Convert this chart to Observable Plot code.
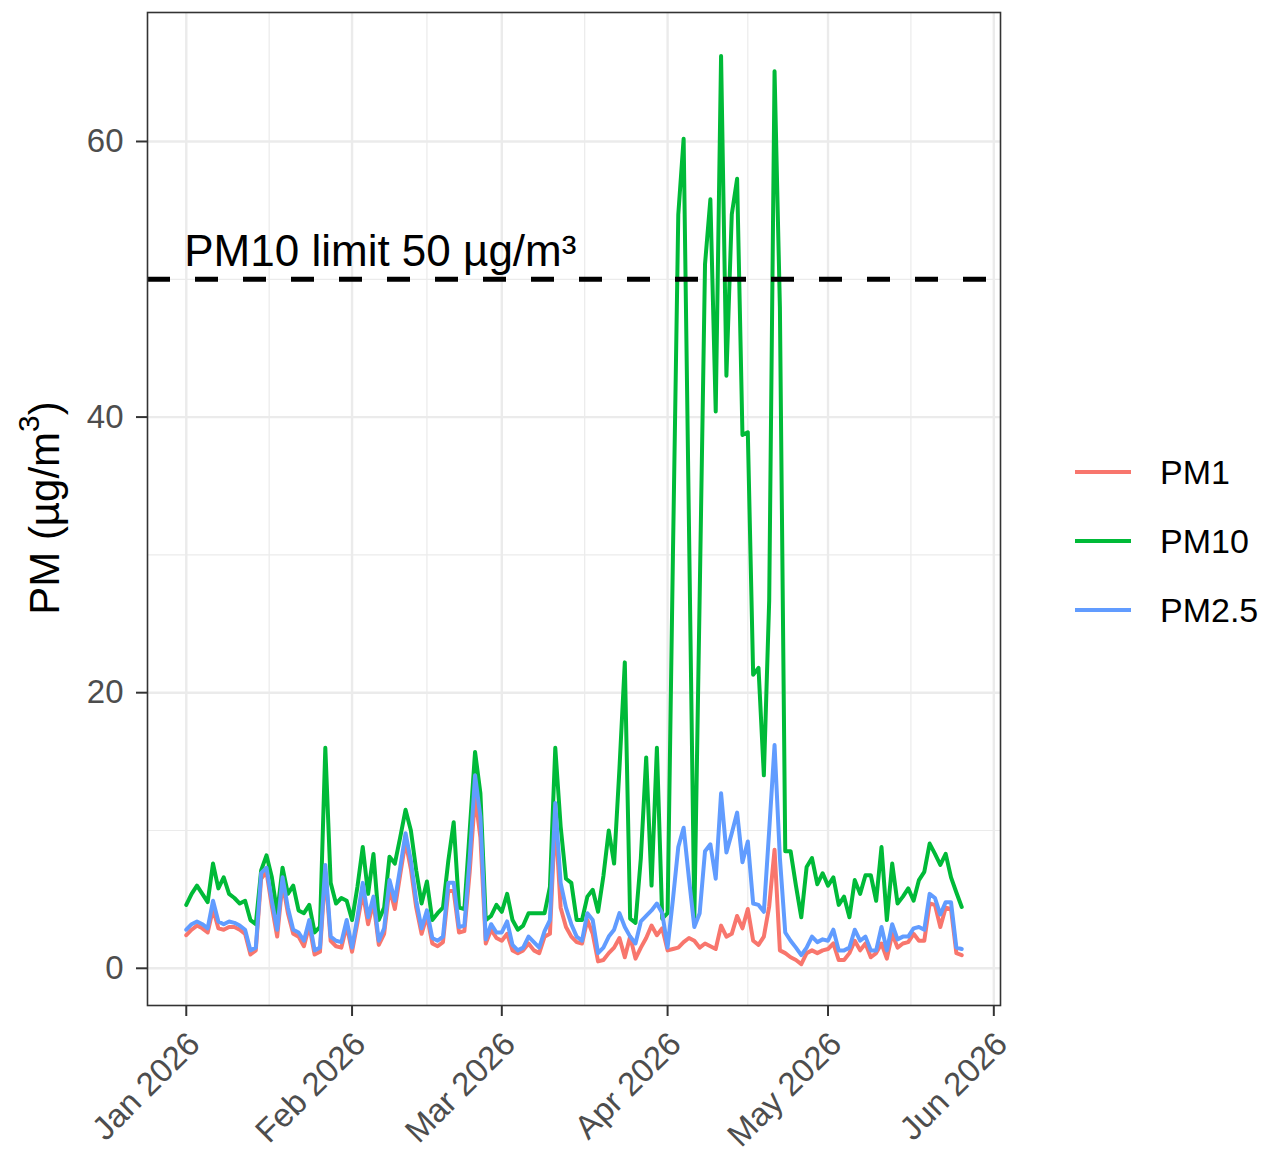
<!DOCTYPE html>
<html>
<head>
<meta charset="utf-8">
<script src="https://cdn.jsdelivr.net/npm/d3@7"></script>
<script src="https://cdn.jsdelivr.net/npm/@observablehq/plot@0.6"></script>
<style>
  html, body { margin: 0; padding: 0; background: #fff; }
  #wrap { position: relative; width: 1266px; height: 1156px; font-family: "Liberation Sans", Arial, Helvetica, sans-serif; }
  #legend { position: absolute; left: 1075px; top: 445px; }
  .item { position: relative; height: 69px; width: 190px; }
  .key { position: absolute; left: 0; top: 25px; width: 56px; height: 4px; }
  .lab { position: absolute; left: 85px; top: 7px; font-size: 34px; color: #000; line-height: 40px; }
</style>
</head>
<body>
<div id="wrap"><div id="chart"></div><div id="legend"></div></div>
<script>
// ---- data (daily, starting 2026-01-01) ----
const startDate = "2026-01-01";
const pm10 = [4.6,5.4,6.0,5.4,4.8,7.6,5.8,6.6,5.4,5.1,4.7,4.9,3.5,3.2,7.1,8.2,6.6,4.0,7.3,5.4,6.0,4.2,4.0,4.6,2.6,3.0,16.0,6.2,4.7,5.1,
  4.9,3.5,5.9,8.8,5.4,8.3,3.5,4.4,8.1,7.6,9.5,11.5,10.0,7.1,4.7,6.3,3.5,4.0,4.4,7.8,10.6,4.4,4.3,10.0,15.7,12.7,3.5,3.8,4.6,
  4.1,5.4,3.5,2.8,3.1,4.0,4.0,4.0,4.0,5.9,16.0,10.3,6.5,6.2,3.5,3.5,5.2,5.7,4.1,6.7,10.0,7.6,14.5,22.2,3.6,3.3,8.0,15.3,6.0,16.0,3.6,
  4.0,30,54.7,60.2,32,3.6,27,51.1,55.8,40.4,66.2,43.0,54.7,57.3,38.7,38.9,21.3,21.8,14.0,26.7,65.1,48,8.5,8.5,6.0,3.7,7.35,8.0,6.1,6.9,
  6.0,6.6,4.6,5.2,3.7,6.4,5.4,6.75,6.75,4.9,8.8,3.5,7.6,4.7,5.2,5.8,4.9,6.4,7.0,9.05,8.3,7.5,8.3,6.6,5.5,4.45];
const pm25 = [2.8,3.2,3.4,3.2,2.9,4.9,3.4,3.2,3.4,3.3,3.1,2.8,1.3,1.5,6.9,7.3,4.9,2.8,6.6,4.4,2.8,2.6,2.0,3.5,1.3,1.5,7.5,2.3,2.0,1.9,
  3.5,1.5,3.7,6.2,3.7,5.2,2.0,2.9,6.4,4.9,7.3,9.8,7.8,4.9,2.9,4.2,2.2,2.0,2.3,6.2,6.2,3.0,3.1,8.0,14.0,11.0,2.1,3.2,2.6,
  2.6,3.4,1.7,1.3,1.5,2.3,1.9,1.5,2.7,3.5,12.0,6.2,4.4,3.2,2.3,2.0,4.0,3.5,1.1,1.5,2.3,2.8,4.0,3.0,2.3,1.8,3.4,3.8,4.2,4.7,4.0,
  1.5,5.0,8.8,10.2,6.5,3.0,4.0,8.5,9.0,6.5,12.7,8.4,9.8,11.3,7.7,9.2,4.7,4.6,4.1,10.0,16.2,8.0,2.6,2.0,1.5,0.95,1.5,2.3,1.9,2.1,
  2.0,2.8,1.3,1.3,1.5,2.8,2.0,2.3,1.3,1.3,3.0,1.3,3.2,2.1,2.3,2.3,2.9,3.0,2.8,5.4,5.1,3.9,4.8,4.8,1.5,1.4];
const pm1 = [2.4,2.8,3.1,2.9,2.6,4.3,2.9,2.8,3.0,3.0,2.8,2.5,1.0,1.3,6.5,7.0,4.5,2.3,6.2,4.0,2.5,2.3,1.6,3.1,1.0,1.2,7.0,2.0,1.6,1.5,
  3.1,1.2,3.3,5.5,3.2,4.8,1.7,2.5,5.8,4.3,6.8,9.2,7.2,4.4,2.5,3.8,1.8,1.6,1.9,5.6,5.6,2.6,2.7,7.0,12.5,9.5,1.8,2.8,2.2,
  2.0,2.5,1.3,1.1,1.3,1.8,1.3,1.1,2.3,2.5,11.0,4.4,3.0,2.3,1.9,1.8,3.5,2.5,0.5,0.6,1.1,1.5,2.2,0.8,2.3,0.7,1.5,2.2,3.1,2.4,2.9,
  1.3,1.4,1.5,1.9,2.2,2.0,1.5,1.8,1.6,1.4,3.1,2.3,2.5,3.8,2.9,4.3,2.0,1.7,2.3,4.5,8.6,1.3,1.1,0.8,0.6,0.3,1.1,1.3,1.1,1.3,
  1.4,1.8,0.6,0.6,1.1,2.0,1.3,1.8,0.8,1.1,1.8,0.7,2.5,1.5,1.8,1.9,2.5,2.0,2.0,4.7,4.6,3.0,4.4,4.3,1.1,0.95];
const seriesNames = ["PM1", "PM10", "PM2.5"];
const seriesColors = ["#F8766D", "#00BA38", "#619CFF"];
const yTicks = [0, 20, 40, 60];
const yMinor = [10, 30, 50];
const xTickDates = ["2026-01-01","2026-02-01","2026-03-01","2026-04-01","2026-05-01","2026-06-01"];
const limitValue = 50;
const limitLabel = "PM10 limit 50 µg/m³";
const limitLabelY = 52;

// ---- build table ----
const t0 = new Date(startDate + "T00:00:00Z");
const DAY = 864e5;
const dates = pm10.map((_, i) => new Date(+t0 + i * DAY));
const valuesBySeries = {"PM1": pm1, "PM10": pm10, "PM2.5": pm25};
const rows = [];
for (const s of seriesNames) valuesBySeries[s].forEach((v, i) => rows.push({date: dates[i], value: v, series: s}));
const majorX = xTickDates.map(d => new Date(d + "T00:00:00Z"));
const minorX = d3.pairs(majorX).map(([a, b]) => new Date((+a + +b) / 2));
const span = +dates[dates.length - 1] - +dates[0];
const xDomain = [new Date(+dates[0] - span * 0.05), new Date(+dates[dates.length - 1] + span * 0.05)];
const yDomain = [-2.7, 69.36];

const chart = Plot.plot({
  width: 1266, height: 1156,
  marginLeft: 147, marginRight: 266, marginTop: 12, marginBottom: 151,
  style: {fontFamily: '"Liberation Sans", Arial, Helvetica, sans-serif', background: "#fff"},
  x: {type: "utc", domain: xDomain},
  y: {domain: yDomain},
  color: {domain: seriesNames, range: seriesColors},
  marks: [
    Plot.gridX(minorX, {stroke: "#ebebeb", strokeOpacity: 1, strokeWidth: 1.2}),
    Plot.gridY(yMinor, {stroke: "#ebebeb", strokeOpacity: 1, strokeWidth: 1.2}),
    Plot.gridX(majorX, {stroke: "#ebebeb", strokeOpacity: 1, strokeWidth: 2.4}),
    Plot.gridY(yTicks, {stroke: "#ebebeb", strokeOpacity: 1, strokeWidth: 2.4}),
    Plot.line(rows, {x: "date", y: "value", stroke: "series", z: "series", strokeWidth: 4, strokeLinejoin: "round"}),
    Plot.ruleY([limitValue], {stroke: "#000", strokeWidth: 5, strokeDasharray: "23,25"}),
    Plot.text([{date: dates[0], y: limitLabelY, t: limitLabel}], {x: "date", y: "y", text: "t", textAnchor: "start", lineAnchor: "middle", fontSize: 44, fill: "#000", dx: -2}),
    Plot.frame({stroke: "#333", strokeWidth: 1.6}),
    Plot.axisY(yTicks, {tickSize: 11, text: null, label: null, stroke: "#333", strokeWidth: 2}),
    Plot.axisY(yTicks, {tickSize: 0, tickPadding: 24, label: null, fill: "#4d4d4d", fontSize: 33}),
    Plot.axisX(majorX, {tickSize: 11, text: null, label: null, stroke: "#333", strokeWidth: 2}),
    Plot.axisX(majorX, {tickSize: 0, tickPadding: 33, dx: 8, tickRotate: -45, label: null, fill: "#4d4d4d", fontSize: 33, tickFormat: d3.utcFormat("%b %Y")})
  ]
});
document.getElementById("chart").appendChild(chart);

// y-axis title with superscript
const svg = d3.select(chart);
const title = svg.append("text")
  .attr("transform", "translate(44,508) rotate(-90)")
  .attr("text-anchor", "middle")
  .attr("dominant-baseline", "central")
  .attr("font-size", 42)
  .attr("fill", "#000")
  .attr("font-family", '"Liberation Sans", Arial, sans-serif');
title.append("tspan").text("PM (µg/m");
title.append("tspan").attr("font-size", 30).attr("dy", -16).text("3");
title.append("tspan").attr("dy", 16).text(")");

// legend
const legend = d3.select("#legend");
seriesNames.forEach((s, i) => {
  const it = legend.append("div").attr("class", "item");
  it.append("div").attr("class", "key").style("background", seriesColors[i]);
  it.append("div").attr("class", "lab").text(s);
});
</script>
</body>
</html>
